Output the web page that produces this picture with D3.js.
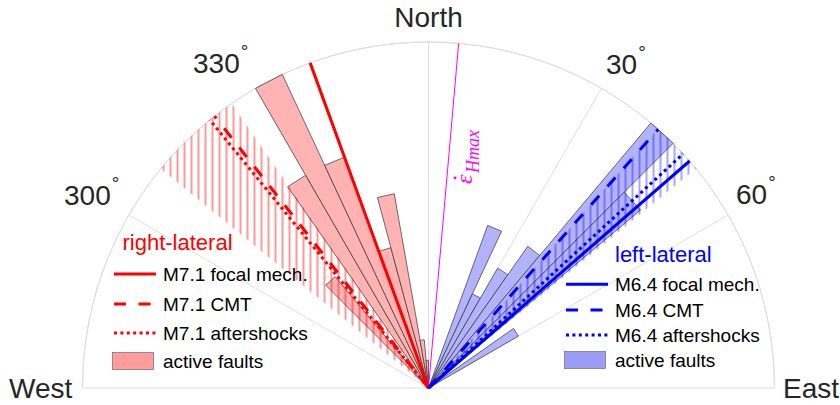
<!DOCTYPE html>
<html><head><meta charset="utf-8">
<script src="https://cdn.jsdelivr.net/npm/d3@7"></script>
<style>
html,body{margin:0;padding:0;background:#fff;}
svg{display:block;}
text{font-family:"Liberation Sans",Arial,Helvetica,sans-serif;}
</style></head>
<body>
<svg id="chart" width="840" height="405"></svg>
<script>
// ---------------- data ----------------
const binWidth = 5;                                   // degrees per rose bin
const redBinStart  = [315, 325, 330, 335, 340, 345, 350, 355];
const redFreq      = [0.42, 0.71, 1.00, 0.71, 0.42, 0.57, 0.14, 0.08];
const blueBinStart = [20, 25, 30, 35, 40, 45, 55];
const blueFreq     = [0.50, 0.30, 0.40, 0.50, 1.00, 0.80, 0.30];
const mechNames    = ["focal mech.", "CMT", "aftershocks"];
const redStrikes   = [340, 321.8, 320.8];              // M7.1 focal, CMT, aftershocks
const blueStrikes  = [49.0, 41.6, 47.4];               // M6.4 focal, CMT, aftershocks
const redRange     = [309.3, 325.3];                   // hatched range (deg)
const blueRange    = [41.5, 50.6];
const strainAz     = 5;                                // epsilon-dot Hmax azimuth
const gridAz       = [300, 330, 0, 30, 60];
const tickAz       = [300, 330, 30, 60];
const tickLabels   = ["300", "330", "30", "60"];
const compassLabels = ["West", "North", "East"];

// ---------------- layout ----------------
const cx = 428.5, cy = 388, R = 346;
const svg = d3.select("#chart");
const g = svg.append("g").attr("transform", `translate(${cx},${cy})`);
const ang = d3.scaleLinear().domain([0, 360]).range([0, 2 * Math.PI]);
const rRed = d3.scaleLinear().domain([0, d3.max(redFreq)]).range([0, R]);
const rBlue = d3.scaleLinear().domain([0, d3.max(blueFreq)]).range([0, R]);
const line = d3.line();
const gridCol = "#dedede";

// patterns for hatching (user space of translated group -> offset 0.5 keeps lines crisp)
const defs = svg.append("defs");
function hatch(id, col, op) {
  const p = defs.append("pattern").attr("id", id).attr("patternUnits", "userSpaceOnUse")
    .attr("width", 7).attr("height", 10).attr("x", 0);
  p.append("line").attr("x1", 1).attr("x2", 1).attr("y1", 0).attr("y2", 10)
    .attr("stroke", col).attr("stroke-opacity", op).attr("stroke-width", 1);
}
hatch("hRed", "#ff0000", 0.8);
hatch("hBlue", "#0000ff", 0.7);

// grid
g.append("path")
  .attr("d", d3.arc()({innerRadius: R, outerRadius: R, startAngle: -Math.PI / 2, endAngle: Math.PI / 2}))
  .attr("fill", "none").attr("stroke", gridCol).attr("stroke-width", 1);
g.append("path").attr("d", line([d3.pointRadial(ang(270), R), d3.pointRadial(ang(90), R)]))
  .attr("stroke", gridCol).attr("stroke-width", 1);
g.selectAll(".grid").data(gridAz).join("path").attr("class", "grid")
  .attr("d", d => line([[0, 0], d3.pointRadial(ang(d), R)]))
  .attr("stroke", gridCol).attr("stroke-width", 1);

// rose bars
function bars(starts, vals, rs, fill) {
  g.append("g").selectAll("path").data(starts).join("path")
    .attr("d", (s, i) => line([[0, 0], d3.pointRadial(ang(s), rs(vals[i])), d3.pointRadial(ang(s + binWidth), rs(vals[i]))]) + "Z")
    .attr("fill", fill).attr("stroke", "#333").attr("stroke-width", 0.7).attr("stroke-linejoin", "miter");
}
bars(redBinStart, redFreq, rRed, "#ffb3b3");
bars(blueBinStart, blueFreq, rBlue, "#b3b3fd");

// hatched ranges
function wedge(rg, pat) {
  const a0 = rg[0] > 180 ? rg[0] - 360 : rg[0];
  const a1 = rg[1] > 180 ? rg[1] - 360 : rg[1];
  g.append("path")
    .attr("d", d3.arc()({innerRadius: 0, outerRadius: R, startAngle: ang(a0), endAngle: ang(a1)}))
    .attr("fill", `url(#${pat})`);
}
wedge(redRange, "hRed");
wedge(blueRange, "hBlue");

// strain line
g.append("path").attr("d", line([[0, 0], d3.pointRadial(ang(strainAz), R)]))
  .attr("stroke", "#ff00ff").attr("stroke-width", 1);

// mechanism lines
const dashes = [null, "12,12.5", "3,3.4"];
function mechLines(az, col) {
  g.append("g").selectAll("path").data(az).join("path")
    .attr("d", d => line([[0, 0], d3.pointRadial(ang(d), R)]))
    .attr("stroke", col).attr("stroke-width", 3).attr("fill", "none")
    .attr("stroke-dasharray", (d, i) => dashes[i]);
}
mechLines(redStrikes, "#ff0000");
mechLines(blueStrikes, "#0000ff");

// compass labels
const txtCol = "#262626";
const compassPos = [[9, 398, "start"], [428.5, 27, "middle"], [783, 398, "start"]];
svg.selectAll(".cmp").data(compassLabels).join("text").attr("class", "cmp")
  .attr("x", (d, i) => compassPos[i][0]).attr("y", (d, i) => compassPos[i][1])
  .attr("text-anchor", (d, i) => compassPos[i][2])
  .attr("font-size", 28).attr("fill", txtCol).text(d => d);

// angle tick labels
const tickPos = [[64, 205], [193, 73], [606, 74], [736, 204]];
const tl = svg.selectAll(".tick").data(tickLabels).join("text").attr("class", "tick")
  .attr("x", (d, i) => tickPos[i][0]).attr("y", (d, i) => tickPos[i][1])
  .attr("font-size", 28).attr("fill", txtCol);
tl.append("tspan").text(d => d);
tl.append("tspan").attr("font-size", 19).attr("dy", -15).attr("dx", 1).text("°");

// epsilon-dot label (rotated)
const eg = svg.append("g").attr("transform", "translate(472,184) rotate(-90)").attr("fill", "#ff00ff");
const eps = eg.append("text")
  .style("font-family", "'Liberation Serif','DejaVu Serif',serif").style("font-style", "italic");
eps.append("tspan").attr("font-size", 24).text("\u03B5");
eps.append("tspan").attr("font-size", 18).attr("dy", 7).attr("dx", 1.5).text("Hmax");
eg.append("circle").attr("cx", 6).attr("cy", -17).attr("r", 1.4);

// legends
function legend(title, col, fill, mag, tx, ty, lx, textX, rows, patchY) {
  const lg = svg.append("g");
  lg.append("text").attr("x", tx).attr("y", ty).attr("font-size", 22).attr("fill", col).text(title);
  mechNames.forEach((nm, i) => {
    lg.append("line").attr("x1", lx).attr("x2", lx + 42).attr("y1", rows[i]).attr("y2", rows[i])
      .attr("stroke", col).attr("stroke-width", 3).attr("stroke-dasharray", dashes[i]);
    lg.append("text").attr("x", textX).attr("y", rows[i] + 6.8).attr("font-size", 19).attr("fill", "#000")
      .text(mag + " " + nm);
  });
  lg.append("rect").attr("x", lx - 1.5).attr("y", patchY - 8.5).attr("width", 41).attr("height", 17)
    .attr("fill", fill).attr("stroke", "#7a7a7a").attr("stroke-width", 0.8);
  lg.append("text").attr("x", textX).attr("y", patchY + 6.8).attr("font-size", 19).attr("fill", "#000").text("active faults");
}
legend("right-lateral", "#ff0000", "#ff9c9c", "M7.1", 122.5, 250, 114, 163, [274, 304, 333], 361);
legend("left-lateral", "#0000ff", "#9c9cf8", "M6.4", 615, 261.5, 566, 615, [284.3, 310, 335], 360);
</script>
</body></html>
